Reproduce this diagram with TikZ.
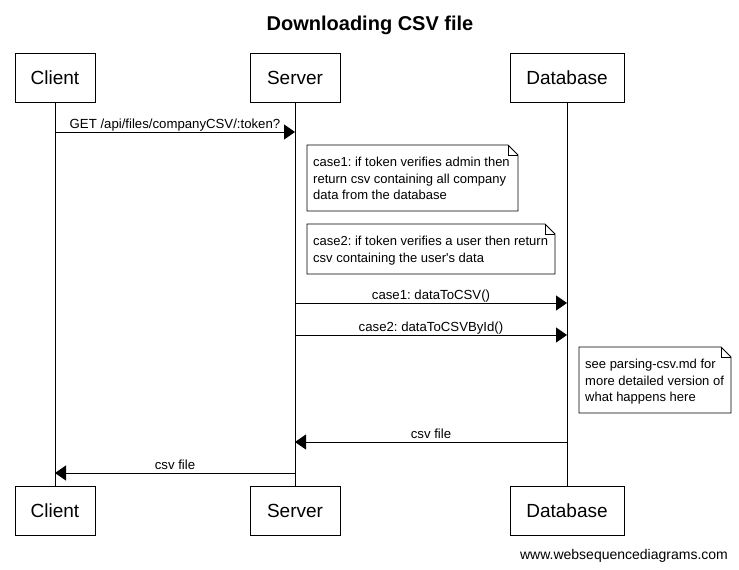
\documentclass[tikz,border=0pt]{standalone}
\usepackage{fontspec}
\setmainfont{Liberation Sans}
\usetikzlibrary{arrows.meta}
\usetikzlibrary{calc}
\frenchspacing

\tikzset{
  actor/.style={draw, line width=0.9pt, inner sep=0pt, minimum height=49pt,
    font=\fontsize{19}{22}\selectfont},
  msg/.style={line width=0.9pt, -{Triangle[length=11pt, width=15pt]}},
  lbl/.style={midway, anchor=base, yshift=4pt, inner sep=0pt,
    font=\fontsize{13.2}{16}\selectfont},
  notetext/.style={anchor=north west, inner sep=0pt, align=left,
    font=\fontsize{13}{16.5}\selectfont},
}

\newcommand{\notebox}[3]{%
  \draw[line width=0.9pt] (#1) -- ($(#2|-#1)+(-10,0)$) -- ($(#2|-#1)+(0,10)$)
    -- (#2) -- (#1|-#2) -- cycle;
  \draw[line width=0.9pt] ($(#2|-#1)+(-10,0)$) -- ($(#2|-#1)+(-10,10)$) -- ($(#2|-#1)+(0,10)$);
  \node[notetext] (#3) at ($(#1)+(6,12)$)}

\begin{document}
\begin{tikzpicture}[x=1pt, y=-1pt]

  \useasboundingbox[fill=white] (0,0) rectangle (739,570);

  \draw (370,30) node[name=title, anchor=base, font=\fontsize{20}{24}\selectfont\bfseries] {Downloading CSV file};

  % participants
  \draw (55,77.5) node[actor, minimum width=80pt, name=client] {Client};
  \draw (295,77.5) node[actor, minimum width=90pt, name=server] {Server};
  \draw (567,77.5) node[actor, minimum width=114pt, name=db] {Database};

  \draw (55,511) node[actor, minimum width=80pt, name=clientB] {Client};
  \draw (295,511) node[actor, minimum width=90pt, name=serverB] {Server};
  \draw (567,511) node[actor, minimum width=114pt, name=dbB] {Database};

  \draw[line width=0.9pt] (client) -- (clientB);
  \draw[line width=0.9pt] (server) -- (serverB);
  \draw[line width=0.9pt] (db) -- (dbB);

  % message ends on the lifelines
  \coordinate (m1a) at (55,132);   \coordinate (m1b) at (295,132);
  \coordinate (m2a) at (295,303);  \coordinate (m2b) at (567,303);
  \coordinate (m3a) at (295,335);  \coordinate (m3b) at (567,335);
  \coordinate (m4a) at (567,442);  \coordinate (m4b) at (295,442);
  \coordinate (m5a) at (295,473);  \coordinate (m5b) at (55,473);

  \draw[msg] (m1a) -- node[lbl] {GET /api/files/companyCSV/:token?} (m1b);
  \draw[msg] (m2a) -- node[lbl] {case1: dataToCSV()} (m2b);
  \draw[msg] (m3a) -- node[lbl] {case2: dataToCSVById()} (m3b);
  \draw[msg] (m4a) -- node[lbl] {csv file} (m4b);
  \draw[msg] (m5a) -- node[lbl] {csv file} (m5b);

  % notes
  \coordinate (n1a) at (307,145); \coordinate (n1b) at (518,211);
  \coordinate (n2a) at (307,224); \coordinate (n2b) at (555,274);
  \coordinate (n3a) at (579,347); \coordinate (n3b) at (731,413);

  \notebox{n1a}{n1b}{note1} {case1: if token verifies admin then\\return csv containing all company\\data from the database};
  \notebox{n2a}{n2b}{note2} {case2: if token verifies a user then return\\csv containing the user\textquotesingle s data};
  \notebox{n3a}{n3b}{note3} {see parsing-csv.md for\\more detailed version of\\what happens here};

  \draw (624,559) node[name=footer, anchor=base, font=\fontsize{14}{16}\selectfont] {www.websequencediagrams.com};

\end{tikzpicture}
\end{document}
